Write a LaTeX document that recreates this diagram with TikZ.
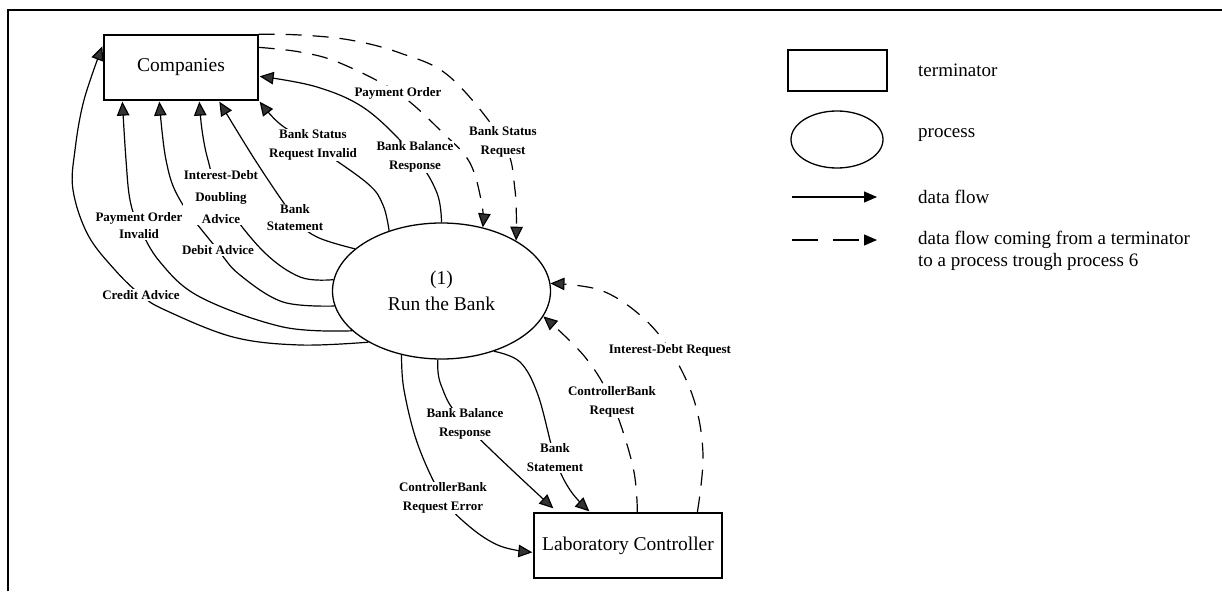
\documentclass[tikz,border=0pt]{standalone}
\usepackage{fontspec}
\setmainfont{Liberation Serif}
\usetikzlibrary{arrows.meta,shapes.geometric,calc,backgrounds}
\begin{document}
\begin{tikzpicture}[x=1pt,y=-1pt,
  term/.style={draw,line width=1.3pt,minimum width=154pt,minimum height=65pt,inner sep=0pt,font=\fontsize{19.5}{22}\selectfont},
  proc/.style={draw,ellipse,line width=1.3pt,minimum width=218pt,minimum height=136pt,inner sep=0pt,align=center,font=\fontsize{19.5}{26}\selectfont},
  lbl/.style={fill=white,inner sep=1pt,align=center,font=\fontsize{13}{19}\selectfont\bfseries},
  flow/.style={line width=1.2pt,-{Triangle[length=14pt,width=12.5pt,fill=black!80]}},
  dflow/.style={flow,dash pattern=on 16pt off 11pt},
  legflow/.style={line width=1.3pt,-{Triangle[length=13pt,width=11pt]}},
  leg/.style={anchor=west,inner sep=0pt,align=left,font=\fontsize{19}{22}\selectfont}
]
\useasboundingbox (0,0) rectangle (1222,591);

% main nodes
\node[term] (comp) at (181,67.5) {Companies};
\node[proc] (bank) at (441.5,291) {(1)\\Run the Bank};
\node[term,minimum width=188pt] (lc) at (628,545.5) {Laboratory Controller};

% labels
\node[lbl] (lCredit) at (141,295) {Credit Advice};
\node[lbl,font=\fontsize{13}{17}\selectfont\bfseries] (lPayInv) at (139,226) {Payment Order\\Invalid};
\node[lbl] (lDebit) at (218,250) {Debit Advice};
\node[lbl,font=\fontsize{13}{22}\selectfont\bfseries] (lIntDbl) at (221,197) {Interest-Debt\\Doubling\\Advice};
\node[lbl,font=\fontsize{13}{17}\selectfont\bfseries] (lBStmC) at (295,218) {Bank\\Statement};
\node[lbl] (lBSRI) at (313,145) {Bank Status\\Request Invalid};
\node[lbl] (lBBRC) at (415,157) {Bank Balance\\Response};
\node[lbl] (lPO) at (398,93) {Payment Order};
\node[lbl] (lBSR) at (503,142) {Bank Status\\Request};
\node[lbl] (lIDR) at (670,350) {Interest-Debt Request};
\node[lbl] (lCBR) at (612,402) {ControllerBank\\Request};
\node[lbl] (lBStmL) at (555,458) {Bank\\Statement};
\node[lbl] (lBBRL) at (465,424) {Bank Balance\\Response};
\node[lbl] (lCBRE) at (443,498) {ControllerBank\\Request Error};

% endpoints on boxes
\coordinate (cA) at ($(comp.north west)+(-1,12)$);
\coordinate (cB) at ($(comp.south west)+(19,1)$);
\coordinate (cC) at ($(comp.south west)+(56,1)$);
\coordinate (cD) at ($(comp.south west)+(96,1)$);
\coordinate (cE) at ($(comp.south west)+(116,1)$);
\coordinate (cF) at ($(comp.south east)+(1,1)$);
\coordinate (cG) at ($(comp.north east)+(1,42)$);
\coordinate (cH) at ($(comp.north east)+(0,13)$);
\coordinate (dJ) at ($(lc.north west)+(164,0)$);
\coordinate (dK) at ($(lc.north west)+(104,0)$);
\coordinate (dL) at ($(lc.north west)+(56,-1)$);
\coordinate (dM) at ($(lc.north west)+(20,-4)$);
\coordinate (dN) at ($(lc.north west)+(-1,40)$);

\begin{pgfonlayer}{background}
\fill[white] (0,0) rectangle (1222,591);
% process -> Companies
\draw[flow] plot[smooth,tension=0.6] coordinates {(bank.215) (300,345) (233,337) (165,310) (lCredit.center) (115,270) (88,235) (73,190) (75,150) (84,100) (cA)};
\draw[flow] plot[smooth,tension=0.6] coordinates {(bank.204) (283,327) (200,297) (160,262) (lPayInv.center) (130,200) (126,160) (cB)};
\draw[flow] plot[smooth,tension=0.6] coordinates {(bank.188) (283,302) (240,275) (lDebit.center) (180,200) (166,160) (cC)};
\draw[flow] plot[smooth,tension=0.6] coordinates {(bank.174) (300,277) (262,250) (lIntDbl.center) (208,160) (202,130) (cD)};
\draw[flow] plot[smooth,tension=0.6] coordinates {(bank.154) (317,237) (lBStmC.center) (257,163) (cE)};
\draw[flow] plot[smooth,tension=0.6] coordinates {(bank.131) (383,205) (367,183) (lBSRI.center) (280,124) (cF)};
\draw[flow] plot[smooth,tension=0.6] coordinates {(bank.90) (437,193) (lBBRC.center) (367,110) (317,87) (cG)};
% Companies -> process (dashed)
\draw[dflow] plot[smooth,tension=0.6] coordinates {(cH) (300,52) (340,63) (lPO.center) (443,133) (470,163) (482,205) (bank.57)};
\draw[dflow] plot[smooth,tension=0.6] coordinates {(comp.north east) (300,35) (350,40) (400,53) (450,77) (lBSR.center) (515,190) (bank.34)};
% Laboratory Controller -> process (dashed)
\draw[dflow] plot[smooth,tension=0.6] coordinates {(dJ) (703,455) (694,400) (lIDR.center) (640,315) (600,290) (bank.4)};
\draw[dflow] plot[smooth,tension=0.6] coordinates {(dK) (633,467) (lCBR.center) (585,357) (bank.-14)};
% process -> Laboratory Controller
\draw[flow] plot[smooth,tension=0.6] coordinates {(bank.-49) (520,362) (538,395) (lBStmL.center) (570,490) (dL)};
\draw[flow] plot[smooth,tension=0.6] coordinates {(bank.-93) (441,385) (lBBRL.center) (dM)};
\draw[flow] plot[smooth,tension=0.6] coordinates {(bank.-122) (404,390) (418,445) (lCBRE.center) (470,527) (500,546) (dN)};
\end{pgfonlayer}

% frame
\draw[line width=2.5pt] (8,591) -- (8,10) -- (1222,10);

% legend
\node[draw,line width=1.3pt,minimum width=99pt,minimum height=41pt,inner sep=0pt] (lgT) at (837.5,70.5) {};
\node[draw,ellipse,line width=1.3pt,minimum width=92pt,minimum height=57pt,inner sep=0pt] (lgP) at (837,139.5) {};
\node[leg] (tT) at (918,70) {terminator};
\node[leg] (tP) at (918,135) {process};
\coordinate (ls0) at (792,197);
\coordinate (ls1) at (877,197);
\draw[legflow] (ls0) -- (ls1);
\node[leg] (tF) at (918,197) {data flow};
\coordinate (ld0) at (792,240);
\coordinate (ld1) at (877,240);
\draw[legflow,dash pattern=on 26pt off 15pt] (ld0) -- (ld1);
\node[leg] (tD) at (918,251) {data flow coming from a terminator\\to a process trough process 6};
\end{tikzpicture}
\end{document}
